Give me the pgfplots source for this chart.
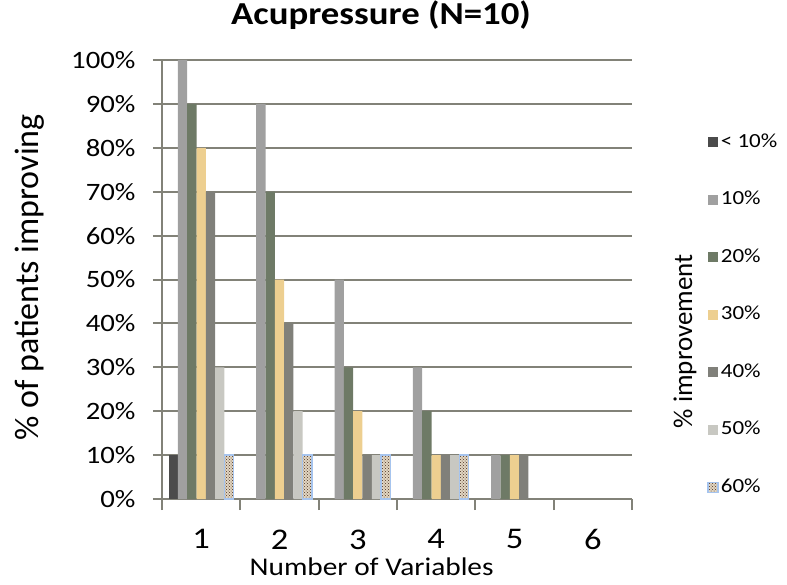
\documentclass[border=0pt]{standalone}
\usepackage{pgfplots}
\pgfplotsset{compat=1.18}
\usetikzlibrary{patterns}
\usepackage{fontspec}
\setmainfont{Carlito}
\newfontfamily\wide[FakeStretch=1.15]{Carlito}

\definecolor{gridc}{HTML}{828278}
\definecolor{c1}{HTML}{4B4B4B}
\definecolor{c2}{HTML}{A0A0A0}
\definecolor{c3}{HTML}{6E7A66}
\definecolor{c4}{HTML}{EDCF90}
\definecolor{c5}{HTML}{80807A}
\definecolor{c6}{HTML}{C8C8C2}
\definecolor{c7line}{HTML}{A6C4EE}
\definecolor{c7fill}{HTML}{E2D6C2}
\definecolor{c7dot}{HTML}{4A3020}

\begin{document}
\begin{tikzpicture}[x=1pt,y=1pt]
\useasboundingbox (-162,-85) rectangle (625,499);
\begin{axis}[
    at={(0,0)}, anchor=south west,
    scale only axis, width=470pt, height=439pt,
    clip=false,
    xmin=0.5, xmax=6.5, ymin=0, ymax=100,
    ybar=0pt, bar width=9.3pt,
    axis x line*=bottom, axis y line*=left,
    axis line style={draw=gridc, line width=2pt, -},
    xtick={1,...,6}, xticklabels={1,2,3,4,5,6},
    minor xtick={0.5,1.5,...,6.5},
    major x tick style={draw=none},
    minor x tick style={draw=gridc, line width=2pt},
    minor tick length=11pt,
    xtick align=outside,
    ytick={0,10,...,100},
    yticklabels={0\%,10\%,20\%,30\%,40\%,50\%,60\%,70\%,80\%,90\%,100\%},
    ytick align=outside, major tick length=9pt,
    y tick style={draw=gridc, line width=2pt},
    ymajorgrids, grid style={draw=gridc, line width=2pt},
    xticklabel style={font=\wide\fontsize{30}{34}\selectfont, yshift=-18pt},
    yticklabel style={font=\wide\fontsize{25}{30}\selectfont, xshift=-14pt},
    title={Acupressure (N=10)},
    title style={at={(0.466,1.089)}, anchor=center,
        font=\wide\bfseries\fontsize{32}{36}\selectfont},
    xlabel={Number of Variables},
    xlabel style={at={(0.446,-0.155)}, anchor=center,
        font=\wide\fontsize{25.5}{30}\selectfont},
    ylabel={\% of patients improving},
    ylabel style={at={(-0.281,0.5046)}, anchor=center,
        font=\fontsize{34}{38}\selectfont},
    every axis plot/.append style={legend image code/.code={
        \path[##1] (0pt,-5pt) rectangle (10pt,5pt);}},
    legend style={at={(1.16,0.838)}, anchor=north west, draw=none,
        fill=none, inner sep=0pt, row sep=35.5pt,
        font=\wide\fontsize{20}{23}\selectfont,
        nodes={inner sep=2pt, text height=14pt, text depth=4pt}},
    legend cell align=left,
]
\addplot[fill=c1, draw=none] coordinates {(1,10)};
\addplot[fill=c2, draw=none] coordinates {(1,100) (2,90) (3,50) (4,30) (5,10)};
\addplot[fill=c3, draw=none] coordinates {(1,90) (2,70) (3,30) (4,20) (5,10)};
\addplot[fill=c4, draw=none] coordinates {(1,80) (2,50) (3,20) (4,10) (5,10)};
\addplot[fill=c5, draw=none] coordinates {(1,70) (2,40) (3,10) (4,10) (5,10)};
\addplot[fill=c6, draw=none] coordinates {(1,30) (2,20) (3,10) (4,10)};
\addplot[fill=c7fill, draw=c7line, line width=1.5pt,
    postaction={pattern=crosshatch dots, pattern color=c7dot}]
    coordinates {(1,10) (2,10) (3,10) (4,10)};
\legend{< 10\%,10\%,20\%,30\%,40\%,50\%,60\%}
\node[rotate=90, anchor=center, font=\fontsize{27}{31}\selectfont]
    at (rel axis cs:1.113,0.359) {\% improvement};
\end{axis}
\end{tikzpicture}
\end{document}
